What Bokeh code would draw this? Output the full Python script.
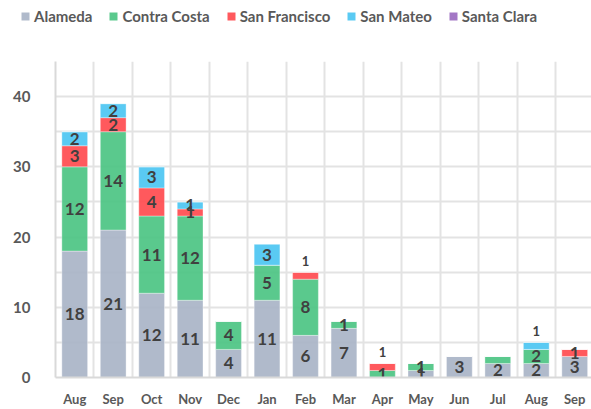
from bokeh.plotting import figure
from bokeh.layouts import column
from bokeh.models import (ColumnDataSource, Range1d, FixedTicker, Legend, LegendItem)
from bokeh.core.properties import value
from bokeh.embed import file_html
from bokeh.resources import INLINE

months = ["Aug", "Sep", "Oct", "Nov", "Dec", "Jan", "Feb", "Mar", "Apr", "May", "Jun", "Jul", "Aug", "Sep"]
series = ["Alameda", "Contra Costa", "San Francisco", "San Mateo", "Santa Clara"]
alameda       = [18, 21, 12, 11, 4, 11, 6, 7, 0, 1, 3, 2, 2, 3]
contra_costa  = [12, 14, 11, 12, 4, 5, 8, 1, 1, 1, 0, 1, 2, 0]
san_francisco = [3, 2, 4, 1, 0, 0, 1, 0, 1, 0, 0, 0, 0, 1]
san_mateo     = [2, 2, 3, 1, 0, 3, 0, 0, 0, 0, 0, 0, 1, 0]
santa_clara   = [0, 0, 0, 0, 0, 0, 0, 0, 0, 0, 0, 0, 0, 0]
y_ticks = [0, 10, 20, 30, 40]
grid_levels = [0, 5, 10, 15, 20, 25, 30, 35, 40, 45]

colors = ["#A9B4C7", "#4CC483", "#FF4B4F", "#4CC6F2", "#9B6BC0"]
values_all = [alameda, contra_costa, san_francisco, san_mateo, santa_clara]
# labels drawn above the bar instead of inside (month index, series index)
labels_above = {(6, 2), (8, 2), (12, 3)}
labels_hidden = {(11, 1)}

x = list(range(len(months)))
FONT = "Lato"

# ---- legend strip ----
lg = figure(width=591, height=30, output_backend="svg", toolbar_location=None,
            x_axis_type=None, y_axis_type=None, frame_align=False,
            x_range=Range1d(0, 1), y_range=Range1d(0, 1),
            min_border_left=0, min_border_right=0, min_border_top=0, min_border_bottom=0)
lg.grid.visible = False
lg.outline_line_color = None
lg_items = []
for name, c in zip(series, colors):
    # zero-area swatch renderer that only carries the legend colour
    r = lg.vbar(x=[0.5], bottom=[0], top=[0], width=0, fill_color=c, fill_alpha=0.92, line_color=None)
    lg_items.append(LegendItem(label=name, renderers=[r]))
legend = Legend(items=lg_items, orientation="horizontal", location=(20, 5),
                glyph_width=10, glyph_height=10, label_standoff=4, spacing=16,
                padding=0, margin=0, border_line_color=None, background_fill_alpha=0,
                label_text_font=FONT, label_text_font_style="bold", label_text_font_size="15px",
                label_text_color="#595959", label_height=14)
lg.add_layout(legend, "center")

# ---- main chart ----
p = figure(frame_width=536, frame_height=316, output_backend="svg", toolbar_location=None,
           x_range=Range1d(-0.5, 13.436), y_range=Range1d(0, 45), frame_align=False,
           min_border_left=55, min_border_right=0, min_border_top=31, min_border_bottom=32)
p.outline_line_color = None
p.background_fill_color = "white"

p.ygrid.ticker = FixedTicker(ticks=grid_levels)
p.ygrid.grid_line_color = "#E3E3E3"
p.ygrid.grid_line_width = 2
p.xgrid.ticker = FixedTicker(ticks=[i + 0.5 for i in x])
p.xgrid.grid_line_color = "#E3E3E3"
p.xgrid.grid_line_width = 2

p.yaxis.ticker = FixedTicker(ticks=y_ticks)
p.xaxis.ticker = FixedTicker(ticks=x)
p.xaxis.major_label_overrides = {i: m for i, m in enumerate(months)}
for ax in (p.xaxis[0], p.yaxis[0]):
    ax.major_tick_line_color = None
    ax.minor_tick_line_color = None
    ax.axis_line_color = "#D9D9D9"
    ax.axis_line_width = 2
    ax.major_label_text_font = FONT
    ax.major_label_text_font_style = "bold"
    ax.major_label_text_color = "#595959"
p.yaxis.major_label_text_font_size = "15px"
p.yaxis.major_label_standoff = 19
p.xaxis.major_label_text_font_size = "13px"
p.xaxis.major_label_standoff = 7

bottoms = [0] * len(months)
lx, ly, lt, sx, sy, st = [], [], [], [], [], []
for si, (name, vals) in enumerate(zip(series, values_all)):
    tops = [b + v for b, v in zip(bottoms, vals)]
    src = ColumnDataSource(dict(x=x, bottom=bottoms, top=tops))
    p.vbar(x="x", bottom="bottom", top="top", width=0.67, source=src,
           fill_color=colors[si], fill_alpha=0.92, line_color="white", line_alpha=0.35, line_width=1)
    for i, v in enumerate(vals):
        if v <= 0 or (i, si) in labels_hidden:
            continue
        if (i, si) in labels_above:
            total = alameda[i] + contra_costa[i] + san_francisco[i] + san_mateo[i] + santa_clara[i]
            sx.append(i); sy.append(total); st.append(str(v))
        else:
            lx.append(i); ly.append(bottoms[i] + v / 2); lt.append(str(v))
    bottoms = tops

p.text(x=lx, y=ly, text=lt, text_align="center", text_baseline="middle",
       text_font=value(FONT), text_font_style="bold", text_font_size="17px", text_color="#404040")
p.text(x=sx, y=sy, text=st, text_align="center", text_baseline="bottom", y_offset=-6,
       text_font=value(FONT), text_font_style="bold", text_font_size="13px", text_color="#404040")

layout = column(lg, p, spacing=0)
open("out.html", "w").write(file_html(layout, INLINE))
